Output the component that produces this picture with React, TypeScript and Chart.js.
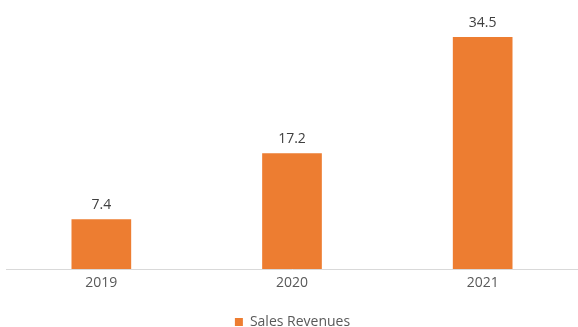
import React, { useEffect, useRef } from "react";
import { Chart, registerables } from "chart.js";

Chart.register(...registerables);

const categories = ["2019", "2020", "2021"];
const salesRevenues = [7.4, 17.2, 34.5];
const seriesLabel = "Sales Revenues";

const valueLabels = {
  id: "valueLabels",
  afterDatasetsDraw(chart: any) {
    const ctx = chart.ctx;
    ctx.save();
    ctx.font = "14px 'Open Sans', 'Liberation Sans', sans-serif";
    ctx.fillStyle = "#404040";
    ctx.textAlign = "center";
    ctx.textBaseline = "bottom";
    const meta = chart.getDatasetMeta(0);
    meta.data.forEach((bar: any, i: number) => {
      const v = chart.data.datasets[0].data[i];
      ctx.fillText(String(v), bar.x, bar.y - 7);
    });
    ctx.restore();
  },
};

export default function App() {
  const ref = useRef<HTMLCanvasElement>(null);
  useEffect(() => {
    const chart = new Chart(ref.current!, {
      type: "bar",
      data: {
        labels: categories,
        datasets: [
          {
            label: seriesLabel,
            data: salesRevenues,
            backgroundColor: "#ED7D31",
            borderWidth: 0,
            barPercentage: 1,
            categoryPercentage: 0.313,
          },
        ],
      },
      options: {
        animation: false,
        responsive: false,
        maintainAspectRatio: false,
        layout: { padding: { top: 0, left: 6, right: -1, bottom: -12 } },
        plugins: {
          tooltip: { enabled: false },
          legend: {
            position: "bottom",
            labels: {
              boxWidth: 8,
              boxHeight: 8,
              color: "#595959",
              font: { size: 14, family: "'Open Sans', 'Liberation Sans', sans-serif" },
              padding: 0,
            },
          },
        },
        scales: {
          x: {
            grid: { display: false, drawTicks: false },
            border: { display: true, color: "#D9D9D9", width: 1 },
            ticks: {
              color: "#595959",
              font: { size: 14, family: "'Open Sans', 'Liberation Sans', sans-serif" },
              padding: 6,
            },
            afterFit: (scale: any) => {
              scale.height = 46;
            },
          },
          y: {
            display: false,
            min: 0,
            max: 40,
          },
        },
      },
      plugins: [valueLabels],
    });
    return () => chart.destroy();
  }, []);
  return (
    <div style={{ position: "fixed", left: 0, top: 0, width: 578, height: 327 }}>
      <canvas ref={ref} width={578} height={327} />
    </div>
  );
}
